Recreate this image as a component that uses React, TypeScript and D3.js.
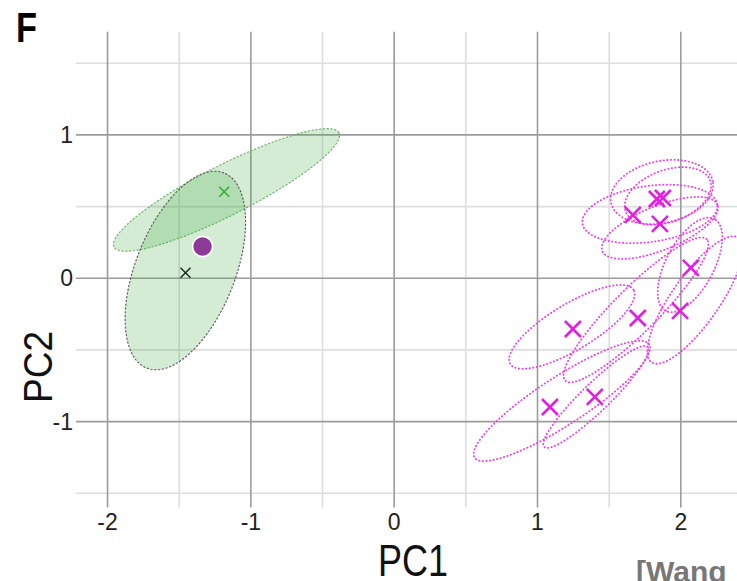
import React from "react";
import * as d3 from "d3";

// axis ticks
const xMajor = [-2, -1, 0, 1, 2];
const xMinor = [-1.5, -0.5, 0.5, 1.5];
const yMajor = [-1, 0, 1];
const yMinor = [-1.5, -0.5, 0.5, 1.5];

// green group: two ellipses (cx, cy, rx, ry, angle)
const greenCx = [-1.17, -1.457];
const greenCy = [0.616, 0.054];
const greenRx = [0.88, 0.732];
const greenRy = [0.175, 0.347];
const greenAngle = [26.9, 68.4];

// green / black markers and the purple sample
const greenMark = [-1.186, 0.604];
const blackMark = [-1.456, 0.039];
const sample = [-1.337, 0.221];

// magenta points
const magX = [1.833, 1.875, 1.665, 1.854, 2.07, 1.995, 1.7, 1.247, 1.4, 1.087];
const magY = [0.553, 0.56, 0.442, 0.379, 0.072, -0.228, -0.277, -0.354, -0.828, -0.898];

// magenta ellipses
const mCx = [1.868, 1.91, 1.784, 1.854, 2.064, 2.1, 1.687, 1.24, 1.408, 1.17];
const mCy = [0.602, 0.574, 0.449, 0.351, 0.093, -0.152, -0.221, -0.339, -0.828, -0.856];
const mRx = [0.363, 0.314, 0.475, 0.433, 0.363, 0.53, 0.698, 0.502, 0.502, 0.726];
const mRy = [0.216, 0.181, 0.195, 0.154, 0.167, 0.167, 0.154, 0.16, 0.098, 0.167];
const mAngle = [12, 20, 8, 22, 62, 55, 45, 31, 44, 33];

const W = 737;
const H = 581;

const x = d3.scaleLinear().domain([-2.22, 2.392]).range([76, 737]);
const y = d3.scaleLinear().domain([-1.6, 1.72]).range([507.6, 31.7]);

const ellipsePath = (cx: number, cy: number, rx: number, ry: number, ang: number) => {
  const phi = (ang * Math.PI) / 180;
  const pts: [number, number][] = d3.range(0, 144).map(i => {
    const t = (i / 144) * 2 * Math.PI;
    const ex = cx + rx * Math.cos(t) * Math.cos(phi) - ry * Math.sin(t) * Math.sin(phi);
    const ey = cy + rx * Math.cos(t) * Math.sin(phi) + ry * Math.sin(t) * Math.cos(phi);
    return [ex, ey];
  });
  return d3
    .line<[number, number]>()
    .x(d => x(d[0]))
    .y(d => y(d[1]))
    .curve(d3.curveLinearClosed)(pts) as string;
};

const Cross = ({ px, py, r, color, w }: { px: number; py: number; r: number; color: string; w: number }) => (
  <g stroke={color} strokeWidth={w}>
    <line x1={px - r} y1={py - r} x2={px + r} y2={py + r} />
    <line x1={px - r} y1={py + r} x2={px + r} y2={py - r} />
  </g>
);

const App = () => {
  const font = "'Liberation Sans', Arial, sans-serif";
  const [x0, x1] = x.domain();
  const [y0, y1] = y.domain();
  return (
    <svg width={W} height={H} style={{ position: "absolute", left: 0, top: 0, background: "#fff" }}>
      {/* grid */}
      <g strokeWidth={1.6}>
        {yMinor.map(v => (
          <line key={"ym" + v} x1={x(x0)} x2={x(x1)} y1={y(v)} y2={y(v)} stroke="#dedede" />
        ))}
        {xMinor.map(v => (
          <line key={"xm" + v} x1={x(v)} x2={x(v)} y1={y(y0)} y2={y(y1)} stroke="#dedede" />
        ))}
        {yMajor.map(v => (
          <line key={"yM" + v} x1={x(x0)} x2={x(x1)} y1={y(v)} y2={y(v)} stroke="#9c9c9c" />
        ))}
        {xMajor.map(v => (
          <line key={"xM" + v} x1={x(v)} x2={x(v)} y1={y(y0)} y2={y(y1)} stroke="#9c9c9c" />
        ))}
      </g>

      {/* tick labels */}
      <g fontFamily={font} fontSize={23} fill="#222">
        {xMajor.map(v => (
          <text key={"xl" + v} x={x(v)} y={y(y0) + 22} textAnchor="middle">
            {v}
          </text>
        ))}
        {yMajor.map(v => (
          <text key={"yl" + v} x={x(x0) - 3} y={y(v) + 8} textAnchor="end">
            {v}
          </text>
        ))}
      </g>

      {/* green ellipses */}
      {greenCx.map((cx, i) => (
        <path
          key={"g" + i}
          d={ellipsePath(cx, greenCy[i], greenRx[i], greenRy[i], greenAngle[i])}
          fill="#3aa83a"
          fillOpacity={0.22}
          stroke={i === 0 ? "#6aae6a" : "#555"}
          strokeWidth={1.1}
          strokeDasharray="2.2,1.6"
        />
      ))}

      {/* magenta ellipses */}
      {mCx.map((cx, i) => (
        <path
          key={"m" + i}
          d={ellipsePath(cx, mCy[i], mRx[i], mRy[i], mAngle[i])}
          fill="none"
          stroke="#ee3cee"
          strokeWidth={1.8}
          strokeLinecap="round"
          strokeDasharray="0.4,3.2"
        />
      ))}

      {/* markers */}
      <Cross px={x(greenMark[0])} py={y(greenMark[1])} r={5} color="#33aa33" w={1.4} />
      <Cross px={x(blackMark[0])} py={y(blackMark[1])} r={5} color="#222" w={1.4} />
      <circle cx={x(sample[0])} cy={y(sample[1])} r={10} fill="#8b3a98" stroke="#fff" strokeWidth={1.5} />
      {magX.map((mx, i) => (
        <Cross key={"c" + i} px={x(mx)} py={y(magY[i])} r={8} color="#e31ee3" w={2.6} />
      ))}

      {/* labels */}
      <text
        x={378}
        y={576}
        fontFamily={font}
        fontSize={44}
        fill="#111"
        textLength={70}
        lengthAdjust="spacingAndGlyphs"
      >
        PC1
      </text>
      <text
        transform="translate(52,403) rotate(-90)"
        fontFamily={font}
        fontSize={40}
        fill="#111"
        textLength={72}
        lengthAdjust="spacingAndGlyphs"
      >
        PC2
      </text>
      <text x={16} y={42} fontFamily={font} fontSize={42} fontWeight="bold" fill="#000" textLength={21} lengthAdjust="spacingAndGlyphs">
        F
      </text>
      <text x={636} y={582} fontFamily={font} fontSize={30} fontWeight="bold" fill="#777">
        [Wang
      </text>
    </svg>
  );
};

export default App;
